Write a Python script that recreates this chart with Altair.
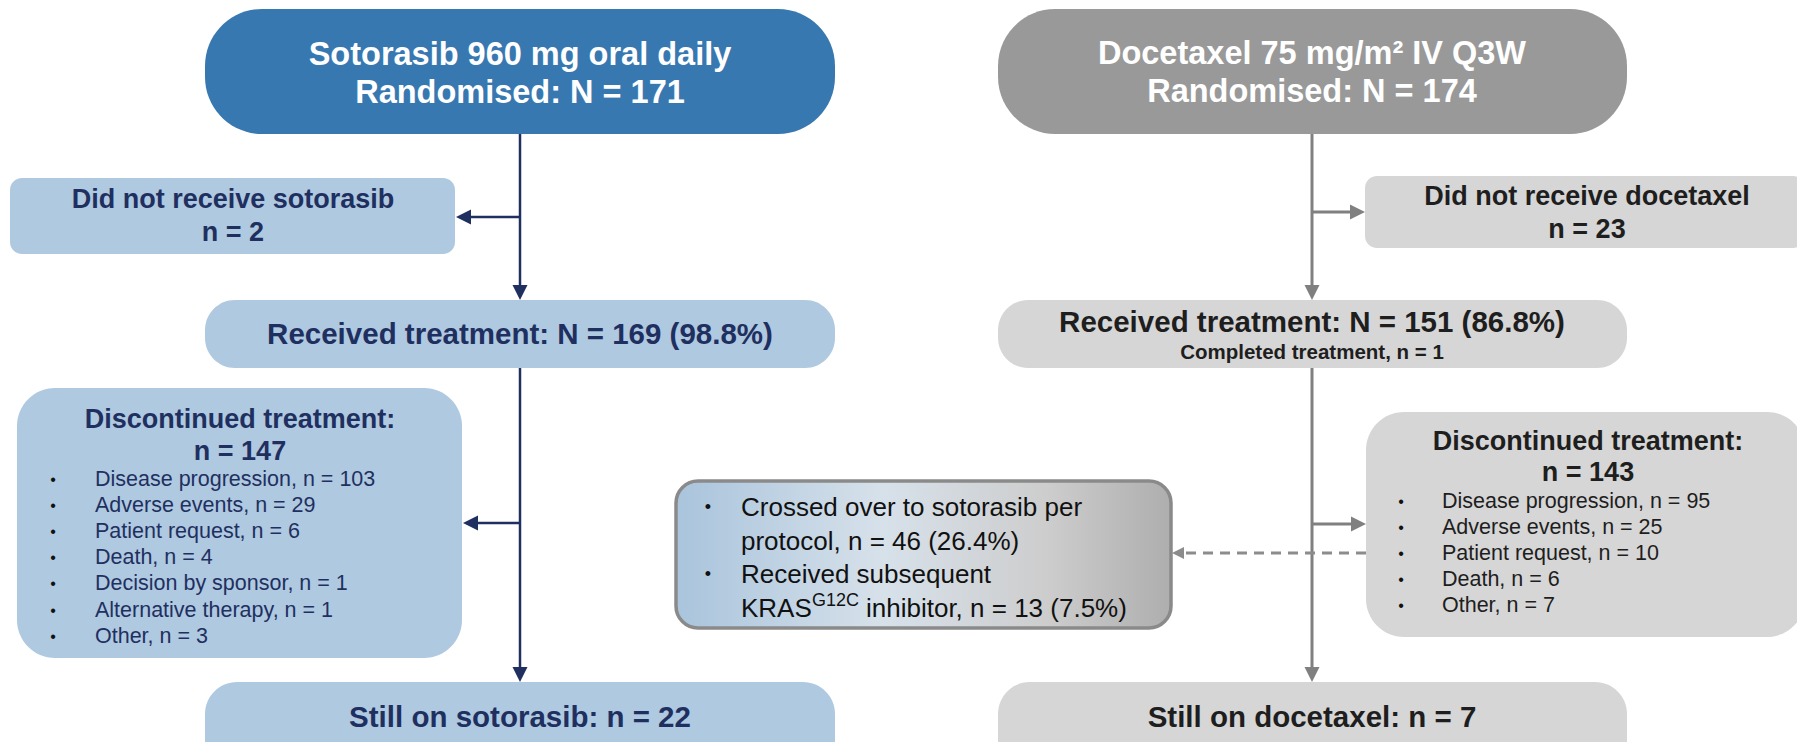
import altair as alt
import pandas as pd

# ---------------- content ----------------
arm_drug = ["Sotorasib 960 mg oral daily", "Docetaxel 75 mg/m² IV Q3W"]
randomised_n = [171, 174]
not_received_label = ["Did not receive sotorasib", "Did not receive docetaxel"]
not_received_n = [2, 23]
received_n = [169, 151]
received_pct = [98.8, 86.8]
completed_n = 1
discontinued_n = [147, 143]
soto_reasons = ["Disease progression", "Adverse events", "Patient request", "Death",
                "Decision by sponsor", "Alternative therapy", "Other"]
soto_reason_n = [103, 29, 6, 4, 1, 1, 3]
doce_reasons = ["Disease progression", "Adverse events", "Patient request", "Death", "Other"]
doce_reason_n = [95, 25, 10, 6, 7]
still_on_label = ["Still on sotorasib", "Still on docetaxel"]
still_on_n = [22, 7]
crossover_n, crossover_pct = 46, 26.4
subsequent_n, subsequent_pct = 13, 7.5

# ---------------- styles ----------------
FONT = "Liberation Sans"
BLUE_HDR = "#3878B1"
GRAY_HDR = "#999999"
BLUE_BOX = "#AFC9E0"
GRAY_BOX = "#D6D6D6"
NAVY = "#1F3060"
DARK = "#1E1E1E"
WHITE = "#FFFFFF"
ARROW_GRAY = "#808080"

# ---------------- layout (pixel frame of the picture) ----------------
W, H = 1789, 734
xs = alt.Scale(domain=[8, 8 + W], nice=False, zero=False)
ys = alt.Scale(domain=[8, 8 + H], nice=False, zero=False, reverse=True)

col_x = [520, 1312]

# boxes: x1, x2, y1, y2, corner radius, fill
box_x1 = [205, 998, 10, 1365, 205, 998, 17, 1366, 205, 998]
box_x2 = [835, 1627, 455, 1805, 835, 1627, 462, 1805, 835, 1627]
box_y1 = [9, 9, 178, 176, 300, 300, 388, 412, 682, 682]
box_y2 = [134, 134, 254, 248, 368, 368, 658, 637, 800, 800]
box_r = [57, 57, 12, 12, 30, 30, 38, 38, 32, 32]
box_fill = [BLUE_HDR, GRAY_HDR, BLUE_BOX, GRAY_BOX, BLUE_BOX, GRAY_BOX,
            BLUE_BOX, GRAY_BOX, BLUE_BOX, GRAY_BOX]

cross_box = dict(x=676, x2=1171, y=481, y2=628)


def X(f):
    return alt.X(f"{f}:Q", scale=xs, axis=None)


def Y(f):
    return alt.Y(f"{f}:Q", scale=ys, axis=None)


layers = []

# ---- connector lines (drawn under boxes) ----
seg = pd.DataFrame([
    # left column
    dict(x=520, y=134, x2=520, y2=288, c=NAVY, w=2.5),
    dict(x=520, y=368, x2=520, y2=670, c=NAVY, w=2.5),
    dict(x=520, y=217, x2=466, y2=217, c=NAVY, w=2.5),
    dict(x=520, y=523, x2=474, y2=523, c=NAVY, w=2.5),
    # right column
    dict(x=1312, y=134, x2=1312, y2=288, c=ARROW_GRAY, w=3),
    dict(x=1312, y=368, x2=1312, y2=670, c=ARROW_GRAY, w=3),
    dict(x=1312, y=212, x2=1354, y2=212, c=ARROW_GRAY, w=3),
    dict(x=1312, y=524, x2=1355, y2=524, c=ARROW_GRAY, w=3),
])
for _, r in seg.iterrows():
    layers.append(
        alt.Chart(pd.DataFrame([r])).mark_rule(color=r.c, strokeWidth=r.w)
        .encode(x=X("x"), x2="x2", y=Y("y"), y2="y2")
    )

dash = pd.DataFrame([dict(x=1366, y=553, x2=1182, y2=553)])
layers.append(
    alt.Chart(dash).mark_rule(color="#8C8C8C", strokeWidth=3, strokeDash=[10, 7])
    .encode(x=X("x"), x2="x2", y=Y("y"), y2="y2")
)

# ---- boxes ----
for i in range(len(box_x1)):
    df = pd.DataFrame(dict(x=[box_x1[i]], x2=[box_x2[i]], y=[box_y1[i]], y2=[box_y2[i]]))
    layers.append(
        alt.Chart(df).mark_rect(cornerRadius=box_r[i], fill=box_fill[i], clip=True)
        .encode(x=X("x"), x2="x2", y=Y("y"), y2="y2")
    )

grad = alt.LinearGradient(
    gradient="linear",
    stops=[alt.GradientStop(color="#A9C4DC", offset=0),
           alt.GradientStop(color="#D7E1EA", offset=0.42),
           alt.GradientStop(color="#CDCDCD", offset=0.75),
           alt.GradientStop(color="#AEAEAE", offset=1)],
    x1=0, x2=1, y1=0, y2=0,
)
layers.append(
    alt.Chart(pd.DataFrame([cross_box])).mark_rect(
        cornerRadius=22, fill=grad, stroke="#8A8A8A", strokeWidth=3.5)
    .encode(x=X("x"), x2="x2", y=Y("y"), y2="y2")
)

# ---- arrowheads ----
DOWN = "M-1,-1L1,-1L0,1Z"
LEFT = "M1,-1L1,1L-1,0Z"
RIGHT = "M-1,-1L-1,1L1,0Z"
heads = pd.DataFrame([
    dict(x=520, y=292.5, s=DOWN, c=NAVY, z=225),
    dict(x=520, y=674.5, s=DOWN, c=NAVY, z=225),
    dict(x=463.5, y=217, s=LEFT, c=NAVY, z=225),
    dict(x=470.5, y=523, s=LEFT, c=NAVY, z=225),
    dict(x=1312, y=292.5, s=DOWN, c=ARROW_GRAY, z=225),
    dict(x=1312, y=674.5, s=DOWN, c=ARROW_GRAY, z=225),
    dict(x=1357.5, y=212, s=RIGHT, c=ARROW_GRAY, z=225),
    dict(x=1358.5, y=524, s=RIGHT, c=ARROW_GRAY, z=225),
    dict(x=1178, y=553, s=LEFT, c="#8C8C8C", z=144),
])
layers.append(
    alt.Chart(heads).mark_point(filled=True, opacity=1, strokeWidth=0)
    .encode(x=X("x"), y=Y("y"),
            shape=alt.Shape("s:N", scale=None, legend=None),
            color=alt.Color("c:N", scale=None, legend=None),
            size=alt.Size("z:Q", scale=None, legend=None))
)

# ---- texts ----
bold_rows = [
    (col_x[0], 55, arm_drug[0], 32.5, WHITE),
    (col_x[0], 93, f"Randomised: N = {randomised_n[0]}", 32.5, WHITE),
    (col_x[1], 54, arm_drug[1], 32.5, WHITE),
    (col_x[1], 92, f"Randomised: N = {randomised_n[1]}", 32.5, WHITE),
    (233, 200, not_received_label[0], 27, NAVY),
    (233, 233, f"n = {not_received_n[0]}", 27, NAVY),
    (1587, 197, not_received_label[1], 27, DARK),
    (1587, 230, f"n = {not_received_n[1]}", 27, DARK),
    (col_x[0], 335, f"Received treatment: N = {received_n[0]} ({received_pct[0]}%)", 29.5, NAVY),
    (col_x[1], 323, f"Received treatment: N = {received_n[1]} ({received_pct[1]}%)", 29.5, DARK),
    (col_x[1], 353, f"Completed treatment, n = {completed_n}", 20.5, DARK),
    (240, 420, "Discontinued treatment:", 27, NAVY),
    (240, 452, f"n = {discontinued_n[0]}", 27, NAVY),
    (1588, 442, "Discontinued treatment:", 27, DARK),
    (1588, 473, f"n = {discontinued_n[1]}", 27, DARK),
    (col_x[0], 718, f"{still_on_label[0]}: n = {still_on_n[0]}", 29.5, NAVY),
    (col_x[1], 718, f"{still_on_label[1]}: n = {still_on_n[1]}", 29.5, DARK),
]
bold_df = pd.DataFrame(bold_rows, columns=["x", "y", "text", "size", "color"])

reg_rows = []
dot_rows = []
for i, (lab, n) in enumerate(zip(soto_reasons, soto_reason_n)):
    y = 480 + 26.1 * i
    reg_rows.append((95, y, f"{lab}, n = {n}", 21.5, NAVY))
    dot_rows.append((53, y, "•", 16, "#111111"))
for i, (lab, n) in enumerate(zip(doce_reasons, doce_reason_n)):
    y = 502 + 26 * i
    reg_rows.append((1442, y, f"{lab}, n = {n}", 21.5, DARK))
    dot_rows.append((1401, y, "•", 16, "#111111"))

cross_lines = [
    "Crossed over to sotorasib per",
    f"protocol, n = {crossover_n} ({crossover_pct}%)",
    "Received subsequent",
]
cross_y = [508, 541.5, 575, 608.5]
for t, y in zip(cross_lines, cross_y):
    reg_rows.append((741, y, t, 26, "#111111"))
dot_rows.append((708, cross_y[0], "•", 18, "#111111"))
dot_rows.append((708, cross_y[2], "•", 18, "#111111"))
# KRAS^G12C line: base word, superscript, remainder
reg_rows.append((741, cross_y[3], "KRAS", 26, "#111111"))
reg_rows.append((812, cross_y[3] - 8, "G12C", 18, "#111111"))
reg_rows.append((866, cross_y[3], f"inhibitor, n = {subsequent_n} ({subsequent_pct}%)", 26, "#111111"))

reg_df = pd.DataFrame(reg_rows, columns=["x", "y", "text", "size", "color"])
dot_df = pd.DataFrame(dot_rows, columns=["x", "y", "text", "size", "color"])


def text_layer(df, bold, align):
    return alt.Chart(df).mark_text(
        font=FONT, fontWeight="bold" if bold else "normal", align=align, baseline="middle"
    ).encode(
        x=X("x"), y=Y("y"), text="text:N",
        size=alt.Size("size:Q", scale=None, legend=None),
        color=alt.Color("color:N", scale=None, legend=None),
    )


layers.append(text_layer(bold_df, True, "center"))
layers.append(text_layer(reg_df, False, "left"))
layers.append(text_layer(dot_df, False, "center"))

chart = alt.layer(*layers).properties(
    width=W, height=H, padding=0,
    autosize=alt.AutoSizeParams(type="none"),
    background="white",
).configure_view(strokeWidth=0)

chart.save("out.html", embed_options={"renderer": "svg", "actions": False})
